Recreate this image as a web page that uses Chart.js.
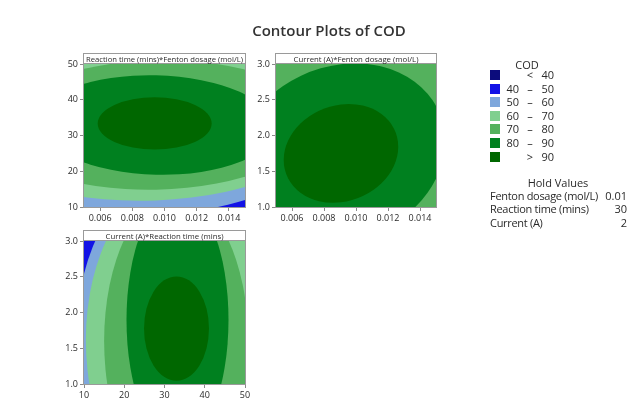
<!DOCTYPE html>
<html><head><meta charset="utf-8">
<script src="https://cdn.jsdelivr.net/npm/chart.js@4.4.0/dist/chart.umd.min.js"></script>
<style>
html,body{margin:0;padding:0;background:#fff;}
#wrap{position:relative;width:641px;height:412px;overflow:hidden;font-family:'Open Sans','Noto Sans',sans-serif;color:#333;}
canvas{position:absolute;left:0;top:0;}
.t{position:absolute;white-space:nowrap;line-height:14px;font-size:11px;font-family:'Open Sans','Noto Sans',sans-serif;color:#2a2a2a;}
.hn{letter-spacing:-0.3px;}
.sw{position:absolute;width:10px;height:10px;left:490px;}
</style></head><body>
<div id="wrap">
<canvas id="c1" width="641" height="412"></canvas>
<canvas id="c2" width="641" height="412"></canvas>
<canvas id="c3" width="641" height="412"></canvas>
<div id="title" style="position:absolute;left:0;width:658px;text-align:center;top:21px;font-size:15px;font-weight:600;line-height:18px;color:#333;">Contour Plots of COD</div>
<div id="legend"></div>
</div>
<script>
// ---- data ----
const legendTitle = 'COD';
const levelLow  = ['', '40', '50', '60', '70', '80', ''];
const levelSym  = ['<', '–', '–', '–', '–', '–', '>'];
const levelHigh = ['40', '50', '60', '70', '80', '90', '90'];
const levelColors = ['#0c0c7c', '#1212e6', '#7ea7dc', '#80cf8f', '#54b15d', '#00801f', '#006700'];
const boundaryLevels = [40, 50, 60, 70, 80, 90];

const holdNames  = ['Fenton dosage (mol/L)', 'Reaction time (mins)', 'Current (A)'];
const holdValues = ['0.01', '30', '2'];

// Panel 1: Reaction time (y) vs Fenton dosage (x); ellipses of the contour boundaries
const p1Title = 'Reaction time (mins)*Fenton dosage (mol/L)';
const p1XTicks = [0.006, 0.008, 0.010, 0.012, 0.014];
const p1XLabels = ['0.006', '0.008', '0.010', '0.012', '0.014'];
const p1YTicks = [10, 20, 30, 40, 50];
const p1YLabels = ['10', '20', '30', '40', '50'];
const p1Cx = [0.00948, 0.00948, 0.00948, 0.00948, 0.00948, 0.00939];
const p1Cy = [32.95, 32.95, 32.95, 32.95, 32.95, 33.37];
const p1Rx = [0.0143, 0.0118, 0.01118, 0.00981, 0.00733, 0.00354];
const p1Ry = [28.1, 25.2, 21.1, 18.1, 13.9, 7.30];
const p1Sx = [0, 0, 0, 0, 0, 0];
const p1Sy = [3.0, 2.7, 2.0, 0.9, -0.8, 0];

// Panel 2: Current (y) vs Fenton dosage (x)
const p2Title = 'Current (A)*Fenton dosage (mol/L)';
const p2XTicks = [0.006, 0.008, 0.010, 0.012, 0.014];
const p2XLabels = ['0.006', '0.008', '0.010', '0.012', '0.014'];
const p2YTicks = [1.0, 1.5, 2.0, 2.5, 3.0];
const p2YLabels = ['1.0', '1.5', '2.0', '2.5', '3.0'];
const p2Cx = [0.00906, 0.00906, 0.00906, 0.00906, 0.00906, 0.00906];
const p2Cy = [1.75, 1.75, 1.75, 1.75, 1.75, 1.75];
const p2Rx = [0.01266, 0.01144, 0.01009, 0.00848, 0.00651, 0.00358];
const p2Ry = [2.43, 2.19, 1.932, 1.624, 1.247, 0.685];
const p2Sx = [0, 0, 0, 0, 0, 0];
const p2Sy = [0.333, 0.30, 0.265, 0.223, 0.171, 0.094];

// Panel 3: Current (y) vs Reaction time (x)
const p3Title = 'Current (A)*Reaction time (mins)';
const p3XTicks = [10, 20, 30, 40, 50];
const p3XLabels = ['10', '20', '30', '40', '50'];
const p3YTicks = [1.0, 1.5, 2.0, 2.5, 3.0];
const p3YLabels = ['1.0', '1.5', '2.0', '2.5', '3.0'];
const p3Cx = [32.86, 32.86, 32.86, 32.9, 33.23, 32.98];
const p3Cy = [1.615, 1.615, 1.615, 1.60, 1.895, 1.775];
const p3Rx = [28.6, 24.9, 22.4, 17.9, 12.67, 8.07];
const p3Ry = [2.66, 2.34, 2.2, 2.05, 1.748, 0.730];
const p3Sx = [0, 0, 0, 0, 0, 0];
const p3Sy = [0, 0, 0, 0, 0, 0];

// ---- drawing ----
const contourPlugin = {
  id: 'contour',
  beforeDatasetsDraw(chart, args, o) {
    const {ctx, chartArea: a} = chart;
    const x = chart.scales.x, y = chart.scales.y;
    ctx.save();
    ctx.beginPath(); ctx.rect(a.left, a.top, a.right - a.left, a.bottom - a.top); ctx.clip();
    ctx.fillStyle = levelColors[0];
    ctx.fillRect(a.left, a.top, a.right - a.left, a.bottom - a.top);
    for (let i = 0; i < boundaryLevels.length; i++) {
      const ox = x.getPixelForValue(o.cx[i]), oy = y.getPixelForValue(o.cy[i]);
      const ux = x.getPixelForValue(o.cx[i] + o.rx[i]) - ox, uy = y.getPixelForValue(o.cy[i] + o.sy[i]) - oy;
      const vx = x.getPixelForValue(o.cx[i] + o.sx[i]) - ox, vy = y.getPixelForValue(o.cy[i] + o.ry[i]) - oy;
      ctx.save();
      ctx.beginPath();
      ctx.transform(ux, uy, vx, vy, ox, oy);
      ctx.arc(0, 0, 1, 0, Math.PI * 2);
      ctx.closePath();
      ctx.restore();
      ctx.fillStyle = levelColors[i + 1];
      ctx.fill();
    }
    ctx.restore();
  },
  afterDraw(chart, args, o) {
    const {ctx, chartArea: a} = chart;
    ctx.save();
    ctx.fillStyle = '#fff';
    ctx.fillRect(a.left, a.top - 10, a.right - a.left, 10);
    ctx.strokeStyle = '#9a9a9a';
    ctx.lineWidth = 1;
    ctx.strokeRect(Math.round(a.left) - 0.5, Math.round(a.top) - 10.5, Math.round(a.right - a.left) + 1, Math.round(a.bottom - a.top) + 11);
    ctx.beginPath();
    ctx.moveTo(a.left, Math.round(a.top) - 0.5); ctx.lineTo(a.right, Math.round(a.top) - 0.5);
    ctx.stroke();
    ctx.fillStyle = '#2a2a2a';
    ctx.font = '7.8px "Open Sans", "Noto Sans", sans-serif';
    ctx.textAlign = 'center'; ctx.textBaseline = 'middle';
    ctx.fillText(o.title, (a.left + a.right) / 2, a.top - 4.5, a.right - a.left - 4);
    ctx.restore();
  }
};

function makeChart(id, pad, xMin, xMax, xT, xL, yMin, yMax, yT, yL, c) {
  const tickFont = {family: '"Open Sans", "Noto Sans", sans-serif', size: 9};
  return new Chart(document.getElementById(id), {
    type: 'scatter',
    data: {datasets: []},
    plugins: [contourPlugin],
    options: {
      responsive: false, animation: false, devicePixelRatio: 1,
      layout: {padding: pad},
      plugins: {legend: {display: false}, tooltip: {enabled: false}, contour: c},
      scales: {
        x: {
          type: 'linear', min: xMin, max: xMax,
          afterBuildTicks: s => { s.ticks = xT.map(v => ({value: v})); },
          afterFit: s => { s.height = 20; },
          grid: {drawOnChartArea: false, drawTicks: true, tickLength: 4, color: '#8a8a8a'},
          border: {display: false},
          ticks: {font: tickFont, color: '#2a2a2a', padding: 2, maxRotation: 0, autoSkip: false,
                  callback: (v, i) => xL[i]}
        },
        y: {
          type: 'linear', min: yMin, max: yMax,
          afterBuildTicks: s => { s.ticks = yT.map(v => ({value: v})); },
          afterFit: s => { s.width = 30; },
          grid: {drawOnChartArea: false, drawTicks: true, tickLength: 4, color: '#8a8a8a'},
          border: {display: false},
          ticks: {font: tickFont, color: '#2a2a2a', padding: 2, autoSkip: false,
                  callback: (v, i) => yL[i]}
        }
      }
    }
  });
}

makeChart('c1', {left: 54, right: 396, top: 64, bottom: 185},
  0.005, 0.015, p1XTicks, p1XLabels, 10, 50, p1YTicks, p1YLabels,
  {title: p1Title, cx: p1Cx, cy: p1Cy, rx: p1Rx, ry: p1Ry, sx: p1Sx, sy: p1Sy});
makeChart('c2', {left: 246, right: 205, top: 64, bottom: 185},
  0.005, 0.015, p2XTicks, p2XLabels, 1.0, 3.0, p2YTicks, p2YLabels,
  {title: p2Title, cx: p2Cx, cy: p2Cy, rx: p2Rx, ry: p2Ry, sx: p2Sx, sy: p2Sy});
makeChart('c3', {left: 54, right: 396, top: 241, bottom: 8},
  10, 50, p3XTicks, p3XLabels, 1.0, 3.0, p3YTicks, p3YLabels,
  {title: p3Title, cx: p3Cx, cy: p3Cy, rx: p3Rx, ry: p3Ry, sx: p3Sx, sy: p3Sy});

// ---- legend (HTML text) ----
const lg = document.getElementById('legend');
let html = '<div class="t" style="left:497px;width:60px;text-align:center;top:58px;">' + legendTitle + '</div>';
for (let i = 0; i < levelColors.length; i++) {
  const cy = 75 + i * 13.6;
  html += '<div class="sw" style="top:' + (cy - 5) + 'px;background:' + levelColors[i] + '"></div>';
  html += '<div class="t" style="left:500px;width:19px;text-align:right;top:' + (cy - 7) + 'px;">' + levelLow[i] + '</div>';
  html += '<div class="t" style="left:524px;width:12px;text-align:center;top:' + (cy - 7) + 'px;">' + levelSym[i] + '</div>';
  html += '<div class="t" style="left:534px;width:20px;text-align:right;top:' + (cy - 7) + 'px;">' + levelHigh[i] + '</div>';
}
html += '<div class="t" style="left:518px;width:80px;text-align:center;top:176px;">Hold Values</div>';
for (let i = 0; i < holdNames.length; i++) {
  const cy = 196 + i * 13.4;
  html += '<div class="t hn" style="left:490px;top:' + (cy - 7) + 'px;">' + holdNames[i] + '</div>';
  html += '<div class="t" style="left:597px;width:30px;text-align:right;top:' + (cy - 7) + 'px;">' + holdValues[i] + '</div>';
}
lg.innerHTML = html;
</script>
</body></html>
